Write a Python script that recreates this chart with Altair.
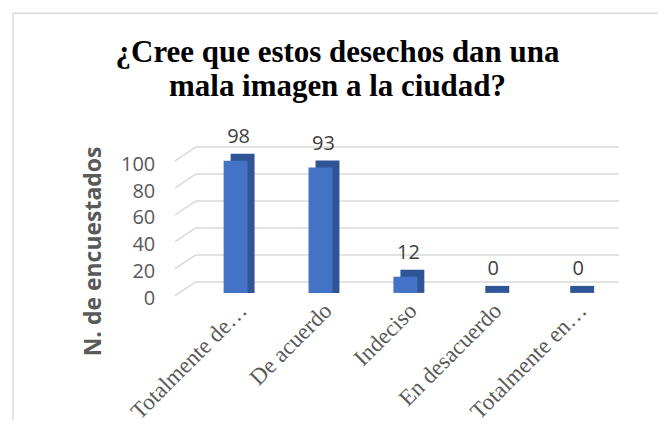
import altair as alt
import pandas as pd

# ---- data ----
categories = ["Totalmente de acuerdo", "De acuerdo", "Indeciso", "En desacuerdo", "Totalmente en desacuerdo"]
values = [98, 93, 12, 0, 0]
tick_values = [0, 20, 40, 60, 80, 100]
title_lines = ["¿Cree que estos desechos dan una", "mala imagen a la ciudad?"]
y_title = "N. de encuestados"

bars_df = pd.DataFrame({"cat": categories, "val": values})
grid_df = pd.DataFrame({"v": tick_values})
frame_df = pd.DataFrame({"k": [0]})

W, H = 462, 135
FRONT = "#4472C4"
SIDE = "#2F5597"
GRID = "#D9D9D9"

x_enc = alt.X(
    "cat:N",
    sort=categories,
    scale=alt.Scale(paddingInner=0.718, paddingOuter=0.576),
    axis=alt.Axis(
        title=None,
        labelAngle=-45,
        labelFont="Liberation Serif",
        labelFontSize=23,
        labelColor="#595959",
        labelPadding=6,
        labelLimit=300,
        labelOverlap=False,
        domain=False,
        ticks=False,
        grid=False,
        labelExpr="length(datum.label) > 15 ? slice(datum.label, 0, 13) + '…' : datum.label",
    ),
)
y_scale = alt.Scale(domain=[0, 100], nice=False, zero=True)
y_axis = alt.Axis(
    values=tick_values,
    grid=False,
    domain=False,
    ticks=False,
    labelOverlap=False,
    labelFont="Open Sans",
    labelFontSize=20,
    labelColor="#595959",
    labelPadding=20,
    labelOffset=6,
    title=y_title,
    titleFont="Open Sans",
    titleFontSize=23,
    titleFontWeight="bold",
    titleColor="#595959",
    titleAngle=-90,
    titleAlign="center",
    titleBaseline="middle",
    titleX=-81,
    titleY=93,
)

frame_v = alt.Chart(frame_df).mark_rule(color="#D9D9D9", strokeWidth=1.5).encode(
    x=alt.value(-162), x2=alt.value(-162), y=alt.value(-145), y2=alt.value(262)
)
frame_h = alt.Chart(frame_df).mark_rule(color="#D9D9D9", strokeWidth=1.5).encode(
    x=alt.value(-162), x2=alt.value(484), y=alt.value(-145), y2=alt.value(-145)
)

grid_back = alt.Chart(grid_df).mark_rule(color=GRID, strokeWidth=1.5, yOffset=-11, y2Offset=-11).encode(
    x=alt.value(21),
    x2=alt.value(445),
    y=alt.Y("v:Q", scale=y_scale, axis=y_axis),
    y2="v:Q",
)
grid_diag = alt.Chart(grid_df).mark_rule(color=GRID, strokeWidth=1.5, yOffset=3, y2Offset=-11).encode(
    x=alt.value(0),
    x2=alt.value(21),
    y=alt.Y("v:Q", scale=y_scale, axis=y_axis),
    y2="v:Q",
)

side = alt.Chart(bars_df).mark_bar(color=SIDE, xOffset=7, yOffset=-7, y2Offset=0.01).encode(
    x=x_enc, y=alt.Y("val:Q", scale=y_scale, stack=None, axis=y_axis), y2=alt.datum(0)
)
front = alt.Chart(bars_df).mark_bar(color=FRONT).encode(
    x=x_enc, y=alt.Y("val:Q", scale=y_scale, stack=None, axis=y_axis)
)
labels = alt.Chart(bars_df).mark_text(
    font="Open Sans", fontSize=20, color="#404040", dx=3, dy=-18, baseline="alphabetic"
).encode(x=x_enc, y=alt.Y("val:Q", scale=y_scale, axis=y_axis), text="val:Q")

chart = (
    alt.layer(frame_v, frame_h, grid_back, grid_diag, side, front, labels)
    .properties(
        width=W,
        height=H,
        padding={"left": 4, "top": 4, "right": 0, "bottom": 0},
        view=alt.ViewBackground(stroke="transparent", strokeWidth=0, fill="white"),
        title=alt.TitleParams(
            text=title_lines,
            font="Liberation Serif",
            fontSize=31,
            fontWeight="bold",
            color="#000000",
            lineHeight=34,
            anchor="middle",
            dx=-68,
            offset=-91,
        ),
    )
    .configure_view(strokeWidth=0, stroke="#ffffff", strokeOpacity=0)
    .configure_axis(grid=False)
    .configure_axisY(labelOverlap=False)
    .configure(background="white")
)

chart.save("out.html", embed_options={"renderer": "svg", "actions": False})
